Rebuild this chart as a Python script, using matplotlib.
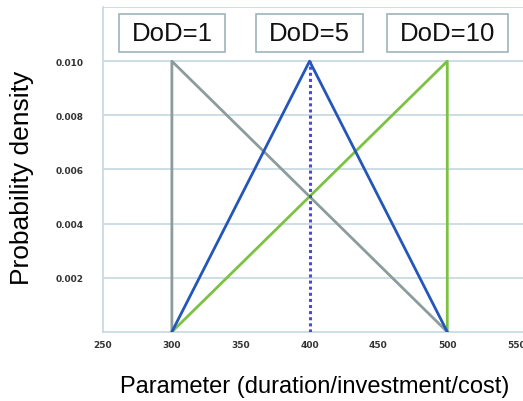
import matplotlib
matplotlib.use("Agg")
import matplotlib.pyplot as plt
from matplotlib.path import Path

# Data
dod1_x = [300, 300, 500]
dod1_y = [0.0, 0.010, 0.0]
dod5_x = [300, 400, 500]
dod5_y = [0.0, 0.010, 0.0]
dod5_mode_x = [400, 400]
dod5_mode_y = [0.0, 0.010]
dod10_x = [300, 500, 500]
dod10_y = [0.0, 0.010, 0.0]
labels = ["DoD=1", "DoD=5", "DoD=10"]
label_x = [300, 400, 500]
xticks = [250, 300, 350, 400, 450, 500, 550]
yticks = [0.002, 0.004, 0.006, 0.008, 0.010]


def wide_box(x0, y0, width, height, mutation_size):
    px = 0.5 * mutation_size
    py = 0.28 * mutation_size
    x0, y0 = x0 - px, y0 - py
    x1, y1 = x0 + width + 2 * px, y0 + height + 2 * py
    return Path([(x0, y0), (x1, y0), (x1, y1), (x0, y1), (x0, y0)], closed=True)


fig = plt.figure(figsize=(5.23, 4.02), dpi=100)
ax = fig.add_axes([0.197, 0.172, 0.803, 0.808])

gridc = "#c5d8e2"
ax.set_xlim(250, 555)
ax.set_ylim(0, 0.012)
for yv in [0.002, 0.004, 0.006, 0.008, 0.010, 0.012]:
    ax.axhline(yv, color=gridc, lw=1.2, zorder=0)

ax.plot(dod1_x, dod1_y, color="#8c9c9c", lw=2, zorder=3)
ax.plot(dod10_x, dod10_y, color="#7cc242", lw=2, zorder=3)
ax.plot(dod5_x, dod5_y, color="#2356b8", lw=2, zorder=4)
ax.plot(dod5_mode_x, dod5_mode_y, color="#4a4ae0", lw=2.2, ls=(0, (1, 1)), zorder=5)

for s in ["top", "right"]:
    ax.spines[s].set_visible(False)
for s in ["left", "bottom"]:
    ax.spines[s].set_color(gridc)
    ax.spines[s].set_linewidth(1.2)

ax.set_xticks(xticks)
ax.set_xticklabels([str(t) for t in xticks], fontsize=6.5, fontweight="bold", color="#333333")
ax.set_yticks(yticks)
ax.set_yticklabels([f"{t:.3f}" for t in yticks], fontsize=6.5, fontweight="bold", color="#333333")
ax.tick_params(length=0)
ax.tick_params(axis="x", pad=6)
ax.tick_params(axis="y", pad=14)

ax.set_xlabel("Parameter (duration/investment/cost)", fontsize=17, family="Liberation Sans")
ax.set_ylabel("Probability density", fontsize=19, family="Liberation Sans")
ax.xaxis.label.set_va("center")
ax.yaxis.label.set_va("center")
ax.xaxis.set_label_coords(0.505, -0.166)
ax.yaxis.set_label_coords(-0.193, 0.477)

for lab, lx in zip(labels, label_x):
    ax.text(lx, 0.01103, lab, ha="center", va="center",
            fontsize=18.5, family="Liberation Sans", color="#111111",
            bbox=dict(boxstyle=wide_box, fc="white", ec="#9fb3bb", lw=1.2))

fig.savefig("out.png", dpi=100)
